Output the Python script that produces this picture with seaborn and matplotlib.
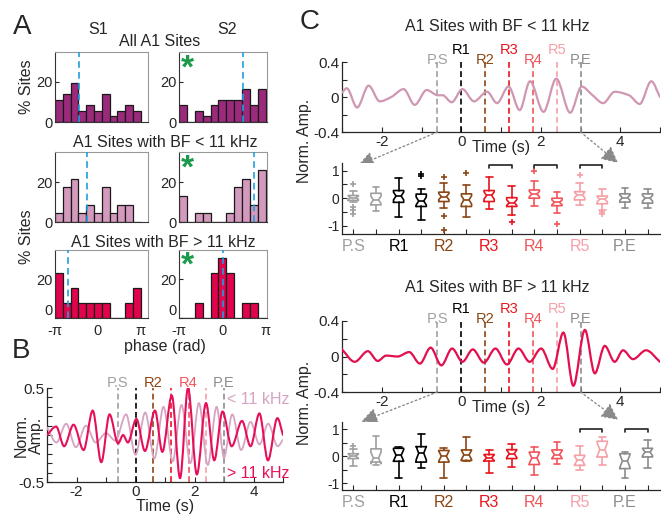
import numpy as np
import pandas as pd
import matplotlib
matplotlib.use("Agg")
import matplotlib.pyplot as plt
import seaborn as sns
from matplotlib.path import Path
from matplotlib.patches import PathPatch

# ======================= DATA =======================
# Panel A: % of sites per phase bin (11 bins spanning -pi..pi)
hist_all_s1 = [11.1, 13.9, 19.4, 5.6, 8.3, 5.6, 13.9, 2.8, 5.6, 8.3, 5.6]
hist_all_s2 = [8.3, 0.0, 5.6, 2.8, 8.3, 11.1, 11.1, 11.1, 16.7, 8.3, 16.7]
hist_lo_s1 = [4.3, 17.4, 21.7, 4.3, 8.7, 4.3, 17.4, 4.3, 8.7, 8.7, 0.0]
hist_lo_s2 = [13.0, 0.0, 4.3, 4.3, 0.0, 0.0, 4.3, 17.4, 21.7, 8.7, 26.1]
hist_hi_s1 = [23.1, 7.7, 15.4, 7.7, 7.7, 7.7, 7.7, 0.0, 0.0, 7.7, 15.4]
hist_hi_s2 = [0.0, 0.0, 7.7, 0.0, 23.1, 30.8, 23.1, 0.0, 7.7, 7.7, 0.0]
mean_phase_s1 = [-1.39, -0.83, -2.22]
mean_phase_s2 = [1.46, 2.26, 0.05]
hist_titles = ['All A1 Sites', 'A1 Sites with BF < 11 kHz', 'A1 Sites with BF > 11 kHz']

# Event markers
event_names = ['P.S', 'R1', 'R2', 'R3', 'R4', 'R5', 'P.E']
event_times = [-0.6, 0.0, 0.6, 1.2, 1.8, 2.4, 3.0]
event_colors = ['#A0A0A0', '#000000', '#8C4614', '#E8141E', '#F0555C', '#F5A0A6', '#8C8C8C']

# Panel B: average traces (extrema)
b_lo_t = [-3.0, -2.68, -2.35, -2.02, -1.68, -1.35, -1.0, -0.68, -0.32, 0.0, 0.33, 0.64,
          0.95, 1.26, 1.56, 1.86, 2.15, 2.45, 2.75, 3.0, 3.28, 3.58, 3.9, 4.2, 4.5, 4.82, 5.0]
b_lo_v = [0.08, -0.08, 0.12, -0.13, 0.10, -0.08, 0.02, -0.06, 0.22, -0.21, 0.24, -0.25,
          0.30, -0.28, 0.32, -0.30, 0.34, -0.32, 0.30, -0.24, 0.22, -0.16, 0.14, -0.10, 0.12, -0.12, -0.05]
b_hi_t = [-3.0, -2.69, -2.42, -2.10, -1.76, -1.45, -1.16, -0.88, -0.59, -0.42, -0.26, 0.03,
          0.32, 0.66, 0.91, 1.23, 1.51, 1.78, 2.08, 2.39, 2.67, 2.95, 3.26, 3.61, 3.90,
          4.20, 4.49, 4.81, 5.0]
b_hi_v = [0.0, 0.09, -0.12, 0.11, -0.16, 0.26, -0.29, 0.22, -0.09, 0.0, -0.08, 0.17,
          -0.17, 0.26, -0.18, 0.42, -0.46, 0.50, -0.42, 0.34, -0.27, 0.25, -0.12, 0.15,
          -0.12, 0.23, -0.27, 0.18, 0.0]

# Panel C traces
c_lo_t = [-3.0, -2.88, -2.62, -2.33, -2.05, -1.76, -1.45, -1.17, -0.87, -0.59, -0.47, -0.24,
          0.03, 0.32, 0.65, 0.90, 1.19, 1.47, 1.73, 2.07, 2.39, 2.74, 3.03, 3.28, 3.57, 3.86,
          4.22, 4.49, 4.78, 5.0]
c_lo_v = [0.05, 0.10, -0.12, 0.13, -0.05, 0.0, 0.09, -0.09, 0.08, 0.02, 0.02, -0.06,
          0.09, -0.05, 0.06, -0.07, 0.12, -0.15, 0.18, -0.17, 0.21, -0.18, 0.12, 0.03,
          -0.07, 0.06, 0.02, -0.08, 0.18, 0.0]
c_hi_t = [-3.0, -2.68, -2.35, -2.10, -1.89, -1.60, -1.31, -1.04, -0.77, -0.50, -0.23, 0.03,
          0.29, 0.57, 0.86, 1.15, 1.44, 1.72, 2.01, 2.30, 2.57, 2.82, 3.11, 3.36, 3.61,
          3.86, 4.07, 4.32, 4.65, 5.0]
c_hi_v = [0.08, -0.06, 0.06, -0.05, 0.01, 0.0, 0.05, -0.08, 0.10, -0.10, 0.09, -0.06,
          0.08, -0.07, 0.09, -0.09, 0.09, -0.06, 0.09, -0.14, 0.27, -0.33, 0.30, -0.19,
          0.12, -0.06, 0.07, -0.03, 0.07, -0.06]

# Panel C box plots (BF < 11 kHz) - 14 boxes, two per event
lo_whislo = [-0.15, -0.48, -0.67, -0.79, -0.36, -0.69, -0.40, -0.60, -0.27, -0.55, -0.24, -0.42, -0.36, -0.36]
lo_q1 = [-0.08, -0.24, -0.15, -0.30, -0.12, -0.30, -0.12, -0.30, 0.00, -0.27, -0.06, -0.20, -0.14, -0.18]
lo_med = [0.02, -0.06, 0.08, -0.10, 0.06, -0.06, 0.10, -0.16, 0.15, -0.15, 0.12, -0.04, 0.02, 0.00]
lo_q3 = [0.10, 0.18, 0.28, 0.15, 0.22, 0.16, 0.28, 0.02, 0.30, 0.00, 0.24, 0.08, 0.16, 0.16]
lo_whishi = [0.25, 0.40, 0.73, 0.33, 0.55, 0.48, 0.76, 0.45, 0.62, 0.22, 0.55, 0.33, 0.38, 0.35]
lo_fliers = [[0.50, -0.33, -0.42, -0.58], [], [], [0.87, 0.79], [0.76, -0.63, -1.15], [0.93],
             [], [-0.85], [1.0], [-0.95], [0.85], [-0.50, -0.58], [], []]
lo_n_sites = 23
lo_sig_pairs = [(7, 8), (9, 10), (11, 12)]

# Panel C box plots (BF > 11 kHz)
hi_whislo = [-0.36, -0.33, -0.79, -0.42, -0.78, -0.17, -0.61, -0.39, -0.67, -0.27, -0.51, -0.33, -0.81, -0.41]
hi_q1 = [-0.08, -0.21, -0.18, -0.21, -0.21, -0.15, -0.17, -0.08, -0.30, -0.08, -0.33, -0.02, -0.45, -0.02]
hi_med = [0.01, -0.06, 0.04, 0.12, 0.01, 0.06, -0.05, 0.10, -0.06, 0.07, -0.15, 0.25, -0.17, 0.16]
hi_q3 = [0.10, 0.28, 0.30, 0.36, 0.22, 0.24, 0.07, 0.25, 0.16, 0.24, 0.04, 0.56, 0.10, 0.30]
hi_whishi = [0.28, 0.74, 0.34, 0.82, 0.32, 0.73, 0.24, 0.46, 0.34, 0.55, 0.38, 0.70, 0.16, 0.61]
hi_fliers = [[0.38], [], [], [], [], [], [], [], [], [], [], [], [], []]
hi_n_sites = 13
hi_sig_pairs = [(11, 12), (13, 14)]

# ======================= STYLE =======================
sns.set_style("ticks")
plt.rcParams['font.family'] = ['Liberation Sans', 'DejaVu Sans']
plt.rcParams['xtick.direction'] = 'in'
plt.rcParams['ytick.direction'] = 'in'
plt.rcParams['axes.linewidth'] = 0.9

W, H = 661, 515
fig = plt.figure(figsize=(W / 100, H / 100), dpi=100)


def add_ax(x0, y0, x1, y1):
    return fig.add_axes([x0 / W, 1 - y1 / H, (x1 - x0) / W, (y1 - y0) / H])


def ftext(x, y, s, **kw):
    return fig.text(x / W, 1 - y / H, s, **kw)


def smooth_trace(ax, t, v, color, lw):
    """Draw a smooth (monotone cubic Bezier) curve through the read points."""
    t = np.asarray(t, float)
    v = np.asarray(v, float)
    d = np.diff(v) / np.diff(t)
    m = np.zeros(len(t))
    m[0], m[-1] = d[0], d[-1]
    for i in range(1, len(t) - 1):
        if d[i - 1] * d[i] > 0:
            m[i] = 2.0 / (1.0 / d[i - 1] + 1.0 / d[i])
    verts = [(t[0], v[0])]
    codes = [Path.MOVETO]
    for i in range(len(t) - 1):
        h = t[i + 1] - t[i]
        verts += [(t[i] + h / 3, v[i] + m[i] * h / 3),
                  (t[i + 1] - h / 3, v[i + 1] - m[i + 1] * h / 3),
                  (t[i + 1], v[i + 1])]
        codes += [Path.CURVE4] * 3
    ax.add_patch(PathPatch(Path(verts, codes), fill=False, edgecolor=color,
                           lw=lw, capstyle='round', joinstyle='round', zorder=3))


# ======================= PANEL A =======================
edges = np.linspace(-np.pi, np.pi, len(hist_all_s1) + 1)
centers = 0.5 * (edges[:-1] + edges[1:])
row_y = [(52, 122), (152, 222), (250, 318)]
col_x = [(55, 148), (179, 267)]
col_xmax = [np.pi + 0.52, np.pi + 0.08]
hist_pairs = [(hist_all_s1, hist_all_s2), (hist_lo_s1, hist_lo_s2), (hist_hi_s1, hist_hi_s2)]
hist_colors = ['#9C2A7C', '#D49ABD', '#E1034B']

for r, ((y0, y1), pair) in enumerate(zip(row_y, hist_pairs)):
    for c, vals in enumerate(pair):
        ax = add_ax(col_x[c][0], y0, col_x[c][1], y1)
        df = pd.DataFrame({'phase': centers, 'pct': vals})
        sns.histplot(data=df, x='phase', weights='pct', bins=list(edges), color=hist_colors[r],
                     edgecolor='#1a1a1a', linewidth=0.9, alpha=1, ax=ax)
        mp = mean_phase_s1[r] if c == 0 else mean_phase_s2[r]
        ax.axvline(mp, color='#1E9FE0', ls=(0, (4, 2.5)), lw=1.2, zorder=4)
        ax.set_xlim(-np.pi, col_xmax[c])
        ax.set_ylim(0, 35)
        ax.set_yticks([0, 20])
        ax.set_ylabel('')
        ax.set_xlabel('')
        ax.tick_params(axis='y', labelsize=10.5, length=3, pad=1.5)
        if r == 2:
            ax.set_xticks([-np.pi, 0, np.pi])
            ax.set_xticklabels(['-π', '0', 'π'])
            ax.tick_params(axis='x', labelsize=10.5, length=0, pad=4)
            # lift the bottom "0" y-label a touch so it clears the "-π" label
            ax.get_yticklabels()[0].set_va('bottom')
        else:
            ax.set_xticks([])
        for s in ax.spines.values():
            s.set_color('#999999')
            s.set_linewidth(0.8)
        ax.spines['left'].set_color('#333333')
        ax.spines['bottom'].set_color('#333333')
        if c == 1:
            ax.text(0.10, 0.64, '*', transform=ax.transAxes, color='#1A9A4A',
                    fontsize=24, fontweight='bold', ha='center', va='baseline')

ftext(22, 27, 'A', fontsize=20, ha='center', va='center')
ftext(98, 30, 'S1', fontsize=11.5, ha='center', va='center')
ftext(227, 30, 'S2', fontsize=11.5, ha='center', va='center')
ftext(160, 42, hist_titles[0], fontsize=11.5, ha='center', va='center')
ftext(165, 142.5, hist_titles[1], fontsize=11.5, ha='center', va='center')
ftext(163, 242.5, hist_titles[2], fontsize=11.5, ha='center', va='center')
ftext(27, 87, '% Sites', fontsize=11.5, ha='center', va='center', rotation=90)
ftext(27, 237, '% Sites', fontsize=11.5, ha='center', va='center', rotation=90)
ftext(165, 347, 'phase (rad)', fontsize=11.5, ha='center', va='center')


# ======================= helpers for time axes =======================
def time_axis(ax, ylim, yticks, ylabels):
    ax.set_xlim(-3, 5)
    ax.set_ylim(*ylim)
    ax.set_xticks(np.arange(-3, 6))
    ax.set_xticklabels(['', '-2', '', '0', '', '2', '', '4', ''])
    ax.set_yticks(yticks)
    ax.set_yticklabels(ylabels)
    ax.tick_params(labelsize=11, length=3.5, width=0.8, pad=2)
    sns.despine(ax=ax)


def event_lines(ax, label_idx, y_low, y_high, stagger=True):
    for i, (nm, tt, col) in enumerate(zip(event_names, event_times, event_colors)):
        ax.axvline(tt, color=col, ls=(0, (3.5, 2)), lw=1.2, zorder=2)
        if i in label_idx:
            yy = (y_high if i % 2 == 1 else y_low) if stagger else y_low
            ax.text(tt, yy, nm, color=col, fontsize=10.5, ha='center', va='baseline',
                    transform=ax.get_xaxis_transform(), clip_on=False)


# ======================= PANEL B =======================
axB = add_ax(47, 388, 283, 482)
event_lines(axB, [0, 2, 4, 6], 1.01, 1.01, stagger=False)
smooth_trace(axB, b_lo_t, b_lo_v, '#D7A3C3', 1.3)
smooth_trace(axB, b_hi_t, b_hi_v, '#E6105A', 1.5)
time_axis(axB, (-0.5, 0.5), np.round(np.arange(-0.5, 0.51, 0.1), 1),
          ['-0.5', '', '', '', '', '', '', '', '', '', '0.5'])
axB.set_xlabel('Time (s)', fontsize=11.5, labelpad=0)
ftext(21, 351, 'B', fontsize=20, ha='center', va='center')
ftext(29, 435, 'Norm.\nAmp.', fontsize=11.5, ha='center', va='center', rotation=90,
      linespacing=1.0)
ftext(289, 400, '< 11 kHz', fontsize=11.5, ha='right', va='center', color='#D7A3C3')
ftext(289, 474, '> 11 kHz', fontsize=11.5, ha='right', va='center', color='#E6105A')

# ======================= PANEL C =======================
ftext(310, 22, 'C', fontsize=20, ha='center', va='center')
box_colors = [c for c in event_colors for _ in range(2)]


def box_panel(ax, whislo, q1, med, q3, whishi, fliers, n_sites, sig_pairs, ylim, sig_y):
    k = 1.57 / np.sqrt(n_sites)
    for i in range(len(med)):
        iqr = q3[i] - q1[i]
        st = dict(med=med[i], q1=q1[i], q3=q3[i], whislo=whislo[i], whishi=whishi[i],
                  fliers=np.asarray(fliers[i]), cilo=med[i] - k * iqr, cihi=med[i] + k * iqr)
        col = box_colors[i]
        ax.bxp([st], positions=[i + 1], widths=0.45, shownotches=True, showfliers=True,
               capwidths=0.3,
               boxprops=dict(color=col, lw=1.2),
               whiskerprops=dict(color=col, lw=1.2),
               capprops=dict(color=col, lw=1.2),
               medianprops=dict(color=col, lw=1.2),
               flierprops=dict(marker='+', markeredgecolor=col, markersize=5, mew=1.2))
    for a, b in sig_pairs:
        ax.plot([a, a, b, b], [sig_y - 0.11, sig_y, sig_y, sig_y - 0.11],
                color='#222222', lw=1.2, clip_on=False)
    ax.set_xlim(0.5, 14.55)
    ax.set_ylim(*ylim)
    ax.set_xticks(np.arange(1, 15))
    ax.set_xticklabels([event_names[i // 2] if i % 2 == 0 else '' for i in range(14)])
    for i, lab in enumerate(ax.get_xticklabels()):
        lab.set_color(box_colors[i])
    ax.set_yticks([-1, -0.5, 0, 0.5, 1])
    ax.set_yticklabels(['-1', '', '0', '', '1'])
    ax.tick_params(axis='x', labelsize=11.5, length=3.5, width=0.8, pad=3.5)
    ax.tick_params(axis='y', labelsize=10, length=3.5, width=0.8, pad=2)
    sns.despine(ax=ax)


def arrows(ax_line, ax_box, tips):
    for tt, tip in zip([event_times[0], event_times[-1]], tips):
        ax_line.annotate('', xy=tip, xycoords=ax_box.transData, xytext=(tt, ax_line.get_ylim()[0]),
                         textcoords='data', annotation_clip=False,
                         arrowprops=dict(arrowstyle='-|>,head_length=1.0,head_width=0.5',
                                         color='#8A8A8A', lw=1.0, linestyle=(0, (1.2, 2)),
                                         shrinkA=0, shrinkB=0))


# --- top (BF < 11 kHz)
axC1 = add_ax(342, 62, 660, 132)
event_lines(axC1, range(7), 0.971, 1.114)
smooth_trace(axC1, c_lo_t, c_lo_v, '#CF97B3', 1.6)
time_axis(axC1, (-0.4, 0.4), [-0.4, -0.2, 0, 0.2, 0.4], ['-0.4', '', '0', '', '0.4'])
axC1.set_xlabel('Time (s)', fontsize=11.5, labelpad=-6)
ftext(497, 26.5, 'A1 Sites with BF < 11 kHz', fontsize=11.5, ha='center', va='center')

axC2 = add_ax(342, 163, 660, 234)
box_panel(axC2, lo_whislo, lo_q1, lo_med, lo_q3, lo_whishi, lo_fliers, lo_n_sites,
          lo_sig_pairs, (-1.3, 1.28), 1.21)
arrows(axC1, axC2, [(1.2, 1.18), (12.7, 1.28)])
ftext(305, 141, 'Norm. Amp.', fontsize=11.5, ha='center', va='center', rotation=90)

# --- bottom (BF > 11 kHz)
axC3 = add_ax(342, 321, 660, 392)
event_lines(axC3, range(7), 0.972, 1.113)
smooth_trace(axC3, c_hi_t, c_hi_v, '#E2104E', 1.6)
time_axis(axC3, (-0.4, 0.4), [-0.4, -0.2, 0, 0.2, 0.4], ['-0.4', '', '0', '', '0.4'])
axC3.set_xlabel('Time (s)', fontsize=11.5, labelpad=-6)
ftext(497, 287, 'A1 Sites with BF > 11 kHz', fontsize=11.5, ha='center', va='center')

axC4 = add_ax(342, 422, 660, 490)
box_panel(axC4, hi_whislo, hi_q1, hi_med, hi_q3, hi_whishi, hi_fliers, hi_n_sites,
          hi_sig_pairs, (-1.24, 1.27), 1.0)
arrows(axC3, axC4, [(1.35, 1.28), (12.7, 1.35)])
ftext(305, 403, 'Norm. Amp.', fontsize=11.5, ha='center', va='center', rotation=90)

fig.savefig('out.png', dpi=100)
